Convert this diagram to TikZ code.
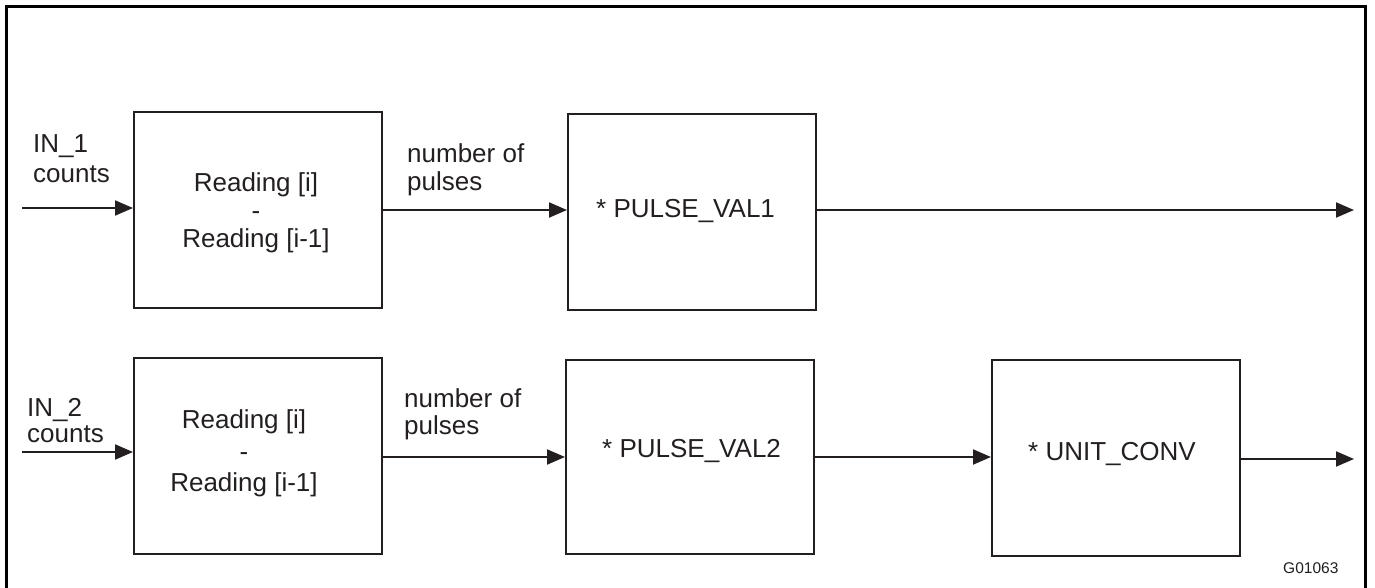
\documentclass[tikz,border=0pt]{standalone}
\usepackage{fontspec}
\setmainfont{Liberation Sans}
\usetikzlibrary{arrows.meta}
\definecolor{ink}{HTML}{231F20}
\begin{document}
\begin{tikzpicture}[x=1pt,y=-1pt,
  blk/.style={draw=ink, line width=2pt, inner sep=0pt},
  lbl/.style={inner sep=0pt, text=ink, font=\fontsize{26}{28}\selectfont},
  flow/.style={draw=ink, line width=2pt, -{Triangle[length=18pt,width=15pt]}}
]
\useasboundingbox (0,0) rectangle (1375,588);
% outer frame (open at the bottom edge)
\draw[line width=3pt] (6,592) -- (6,7) -- (1365,7) -- (1365,592);

% ---- channel 1 ----
\node[blk, minimum width=248pt, minimum height=196pt] (a1) at (258,210) {};
\node[blk, minimum width=248pt, minimum height=196pt] (b1) at (692,212) {};
\node[lbl, align=center] (a1txt) at (256,213) {Reading [i]\\-\\Reading [i-1]};
\node[lbl, anchor=base west] (b1txt) at (596,217) {* PULSE\_VAL1};
\node[lbl, anchor=north west, align=left, font=\fontsize{26}{30}\selectfont] (in1txt) at (33,134.4) {IN\_1\\counts};
\node[lbl, anchor=north west, align=left] (n1txt) at (407,143) {number of\\pulses};

\coordinate (in1) at (22,208);
\coordinate (out1) at (1354,210);
\draw[flow] (in1) -- (in1 -| a1.west);
\draw[flow] (a1.east) -- (a1.east -| b1.west);
\draw[flow] (b1.east |- out1) -- (out1);

% ---- channel 2 ----
\node[blk, minimum width=248pt, minimum height=196pt] (a2) at (258,456) {};
\node[blk, minimum width=248pt, minimum height=194pt] (b2) at (690,457) {};
\node[blk, minimum width=248pt, minimum height=196pt] (c2) at (1116,458) {};
\node[lbl, align=center, font=\fontsize{26}{31.5}\selectfont] (a2txt) at (244,453.75) {Reading [i]\\-\\Reading [i-1]};
\node[lbl, anchor=base west] (b2txt) at (602,457) {* PULSE\_VAL2};
\node[lbl, anchor=base west] (c2txt) at (1028,460) {* UNIT\_CONV};
\node[lbl, anchor=north west, align=left, font=\fontsize{26}{26}\selectfont] (in2txt) at (27,398.4) {IN\_2\\counts};
\node[lbl, anchor=north west, align=left, font=\fontsize{26}{27}\selectfont] (n2txt) at (404,388) {number of\\pulses};

\coordinate (in2) at (22,452);
\coordinate (out2) at (1354,459);
\draw[flow] (in2) -- (in2 -| a2.west);
\draw[flow] (a2.east |- b2.west) -- (b2.west);
\draw[flow] (b2.east) -- (b2.east -| c2.west);
\draw[flow] (c2.east |- out2) -- (out2);

% drawing number
\node[lbl, anchor=base west, font=\fontsize{15.5}{18}\selectfont] (gno) at (1283,573) {G01063};
\end{tikzpicture}
\end{document}
